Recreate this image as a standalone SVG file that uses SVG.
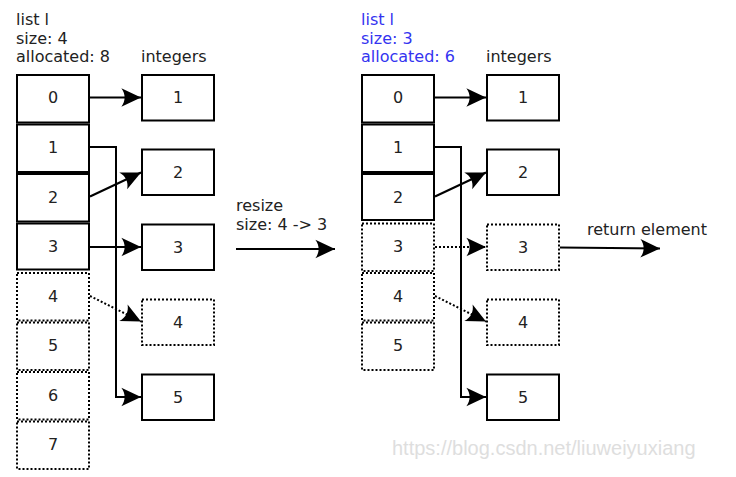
<svg xmlns="http://www.w3.org/2000/svg" width="736" height="477" viewBox="0 0 736 477">
<style>
text{font-family:"DejaVu Sans",Verdana,sans-serif;font-size:16px;fill:#222}
.c{text-anchor:middle}
.blue{fill:#3434f0}
.box{fill:#fff;stroke:#000;stroke-width:2}
.dot{fill:#fff;stroke:#000;stroke-width:2;stroke-dasharray:2,2}
.ln{fill:none;stroke:#000;stroke-width:2}
.dl{fill:none;stroke:#000;stroke-width:2;stroke-dasharray:2,2}
.wm{font-family:"Liberation Sans",Arial,sans-serif;font-size:20px;fill:#dedede}
</style>
<defs>
<marker id="ah" markerUnits="userSpaceOnUse" markerWidth="24" markerHeight="24" viewBox="-20 -10 22 20" refX="0" refY="0" orient="auto" overflow="visible">
<path d="M0,0 L-18,-8.5 C-14,-3 -14,3 -18,8.5 Z" fill="#000"/>
</marker>
</defs>

<g id="left-header">
<text x="16" y="25">list l</text>
<text x="16" y="43.5">size: 4</text>
<text x="16" y="62">allocated: 8</text>
<text x="141" y="62">integers</text>
</g>

<g id="left-cell-0"><rect class="box" x="17" y="75" width="72" height="47.5"/><text class="c" x="53" y="103">0</text></g>
<g id="left-cell-1"><rect class="box" x="17" y="124.5" width="72" height="47.5"/><text class="c" x="53" y="152.5">1</text></g>
<g id="left-cell-2"><rect class="box" x="17" y="174" width="72" height="47.5"/><text class="c" x="53" y="202.5">2</text></g>
<g id="left-cell-3"><rect class="box" x="17" y="223.5" width="72" height="46"/><text class="c" x="53" y="252">3</text></g>
<g id="left-cell-4"><rect class="dot" x="17" y="273" width="72" height="47.5"/><text class="c" x="53" y="301.5">4</text></g>
<g id="left-cell-5"><rect class="dot" x="17" y="322.5" width="72" height="47.5"/><text class="c" x="53" y="351">5</text></g>
<g id="left-cell-6"><rect class="dot" x="17" y="372" width="72" height="47.5"/><text class="c" x="53" y="400.5">6</text></g>
<g id="left-cell-7"><rect class="dot" x="17" y="421.5" width="72" height="47.5"/><text class="c" x="53" y="450">7</text></g>

<g id="left-int-1"><rect class="box" x="142" y="75" width="72" height="45.5"/><text class="c" x="178" y="103">1</text></g>
<g id="left-int-2"><rect class="box" x="142" y="149.5" width="72" height="45.5"/><text class="c" x="178" y="177.5">2</text></g>
<g id="left-int-3"><rect class="box" x="142" y="224.5" width="72" height="45.5"/><text class="c" x="178" y="252.5">3</text></g>
<g id="left-int-4"><rect class="dot" x="142" y="299.5" width="72" height="45.5"/><text class="c" x="178" y="327.5">4</text></g>
<g id="left-int-5"><rect class="box" x="142" y="374.5" width="72" height="45.5"/><text class="c" x="178" y="402.5">5</text></g>

<g id="resize-label">
<text x="236" y="211">resize</text>
<text x="236" y="230">size: 4 -&gt; 3</text>
</g>

<g id="right-header">
<text class="blue" x="361" y="25">list l</text>
<text class="blue" x="361" y="43.5">size: 3</text>
<text class="blue" x="361" y="62">allocated: 6</text>
<text x="486" y="62">integers</text>
</g>

<g id="right-cell-0"><rect class="box" x="362" y="75" width="72" height="47.5"/><text class="c" x="398" y="103">0</text></g>
<g id="right-cell-1"><rect class="box" x="362" y="124.5" width="72" height="47.5"/><text class="c" x="398" y="152.5">1</text></g>
<g id="right-cell-2"><rect class="box" x="362" y="174" width="72" height="46"/><text class="c" x="398" y="202.5">2</text></g>
<g id="right-cell-3"><rect class="dot" x="362" y="223.5" width="72" height="47.5"/><text class="c" x="398" y="252">3</text></g>
<g id="right-cell-4"><rect class="dot" x="362" y="273" width="72" height="47.5"/><text class="c" x="398" y="301.5">4</text></g>
<g id="right-cell-5"><rect class="dot" x="362" y="322.5" width="72" height="47.5"/><text class="c" x="398" y="351">5</text></g>

<g id="right-int-1"><rect class="box" x="487" y="75" width="72" height="45.5"/><text class="c" x="523" y="103">1</text></g>
<g id="right-int-2"><rect class="box" x="487" y="149.5" width="72" height="45.5"/><text class="c" x="523" y="177.5">2</text></g>
<g id="right-int-3"><rect class="dot" x="487" y="224.5" width="72" height="45.5"/><text class="c" x="523" y="252.5">3</text></g>
<g id="right-int-4"><rect class="dot" x="487" y="299.5" width="72" height="45.5"/><text class="c" x="523" y="327.5">4</text></g>
<g id="right-int-5"><rect class="box" x="487" y="374.5" width="72" height="45.5"/><text class="c" x="523" y="402.5">5</text></g>

<g id="return-label"><text x="587" y="235">return element</text></g>

<g id="connectors">
<path class="ln" d="M90,97.5 H141" marker-end="url(#ah)"/>
<path class="ln" d="M90,147 H116 V397 H141" marker-end="url(#ah)"/>
<path class="ln" d="M90,196.5 L141,172.5" marker-end="url(#ah)"/>
<path class="ln" d="M90,247 H141" marker-end="url(#ah)"/>
<path class="dl" d="M90,296 L141,321.5" marker-end="url(#ah)"/>
<path class="ln" d="M236,249 H335" marker-end="url(#ah)"/>
<path class="ln" d="M435,97.5 H486" marker-end="url(#ah)"/>
<path class="ln" d="M435,147 H461 V397 H486" marker-end="url(#ah)"/>
<path class="ln" d="M435,196.5 L486,172.5" marker-end="url(#ah)"/>
<path class="dl" d="M435,247 H486" marker-end="url(#ah)"/>
<path class="dl" d="M435,296 L486,321.5" marker-end="url(#ah)"/>
<path class="ln" d="M560,247.5 L660,248.5" marker-end="url(#ah)"/>
</g>

<text class="wm" x="392" y="455">https://blog.csdn.net/liuweiyuxiang</text>
</svg>
